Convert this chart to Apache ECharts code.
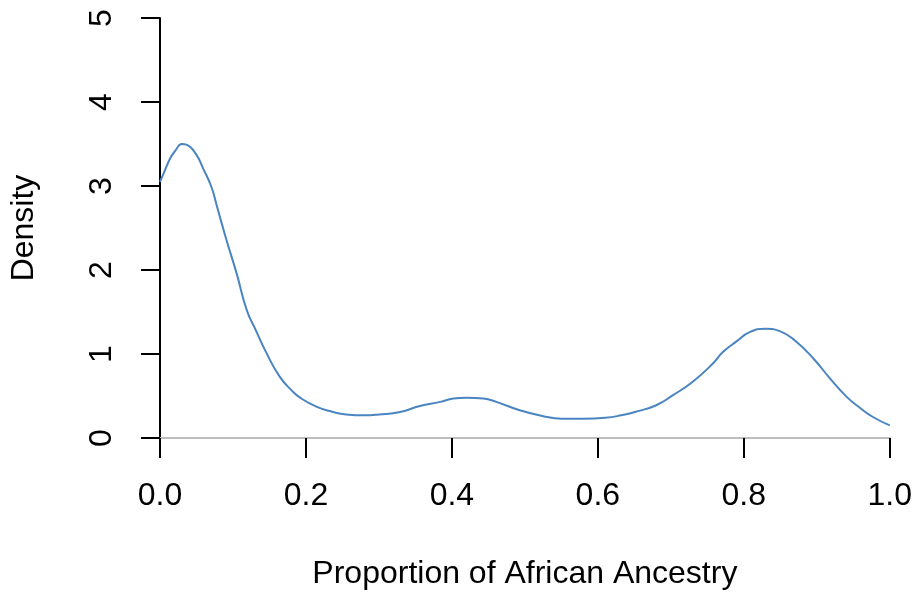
<!DOCTYPE html>
<html>
<head>
<meta charset="utf-8">
<script src="https://cdn.jsdelivr.net/npm/echarts@6/dist/echarts.min.js"></script>
<style>
  html, body { margin: 0; padding: 0; background: #ffffff; }
  #chart { width: 915px; height: 595px; }
</style>
</head>
<body>
<div id="chart"></div>
<script>
// Kernel density estimate of the proportion of African ancestry
const ancestry = [
  0.000, 0.005, 0.014, 0.021, 0.030, 0.037, 0.050, 0.059, 0.070, 0.078,
  0.091, 0.105, 0.119, 0.132, 0.146, 0.164, 0.180, 0.192, 0.215, 0.237,
  0.255, 0.280, 0.300, 0.329, 0.356, 0.384, 0.402, 0.420, 0.443, 0.461,
  0.493, 0.525, 0.550, 0.580, 0.610, 0.632, 0.655, 0.680, 0.703, 0.730,
  0.758, 0.771, 0.790, 0.808, 0.830, 0.850, 0.870, 0.895, 0.918, 0.941,
  0.959, 0.977, 1.000
];
const density = [
  3.05, 3.15, 3.33, 3.42, 3.50, 3.49, 3.37, 3.21, 3.00, 2.76,
  2.36, 1.96, 1.52, 1.27, 1.01, 0.73, 0.57, 0.48, 0.37, 0.31,
  0.28, 0.27, 0.28, 0.31, 0.38, 0.43, 0.47, 0.48, 0.47, 0.43,
  0.33, 0.26, 0.23, 0.23, 0.24, 0.27, 0.32, 0.39, 0.51, 0.67,
  0.89, 1.02, 1.15, 1.26, 1.30, 1.27, 1.16, 0.95, 0.71, 0.49,
  0.36, 0.25, 0.15
];
const xTicks = [0, 0.2, 0.4, 0.6, 0.8, 1.0];
const yTicks = [0, 1, 2, 3, 4, 5];

const xTitle = 'Proportion of African Ancestry';
const yTitle = 'Density';

const font = "'Liberation Sans', Arial, sans-serif";
const chart = echarts.init(document.getElementById('chart'), null, { renderer: 'canvas' });

chart.setOption({
  animation: false,
  backgroundColor: '#ffffff',
  grid: { left: 160, right: 25, top: 18, bottom: 156, containLabel: false },
  xAxis: {
    type: 'value',
    min: xTicks[0],
    max: xTicks[xTicks.length - 1],
    interval: 0.2,
    name: xTitle,
    nameLocation: 'middle',
    nameGap: 120,
    nameTextStyle: { fontFamily: font, fontSize: 32, color: '#000' },
    axisLine: { show: true, lineStyle: { color: '#bebebe', width: 2 } },
    axisTick: { show: true, length: 20, lineStyle: { color: '#000', width: 2 } },
    axisLabel: {
      margin: 42,
      fontFamily: font, fontSize: 32, color: '#000',
      formatter: v => v.toFixed(1)
    },
    splitLine: { show: false }
  },
  yAxis: {
    type: 'value',
    min: yTicks[0],
    max: yTicks[yTicks.length - 1],
    interval: 1,
    name: yTitle,
    nameLocation: 'middle',
    nameRotate: 90,
    nameGap: 120,
    nameTextStyle: { fontFamily: font, fontSize: 32, color: '#000' },
    axisLine: { show: true, lineStyle: { color: '#000', width: 2 } },
    axisTick: { show: true, length: 19, lineStyle: { color: '#000', width: 2 } },
    axisLabel: {
      rotate: 90,
      margin: 42,
      fontFamily: font, fontSize: 32, color: '#000'
    },
    splitLine: { show: false }
  },
  series: [{
    type: 'line',
    data: ancestry.map((x, i) => [x, density[i]]),
    showSymbol: false,
    smooth: 0.5,
    clip: true,
    lineStyle: { color: '#4a85c1', width: 2 }
  }]
});
</script>
</body>
</html>
